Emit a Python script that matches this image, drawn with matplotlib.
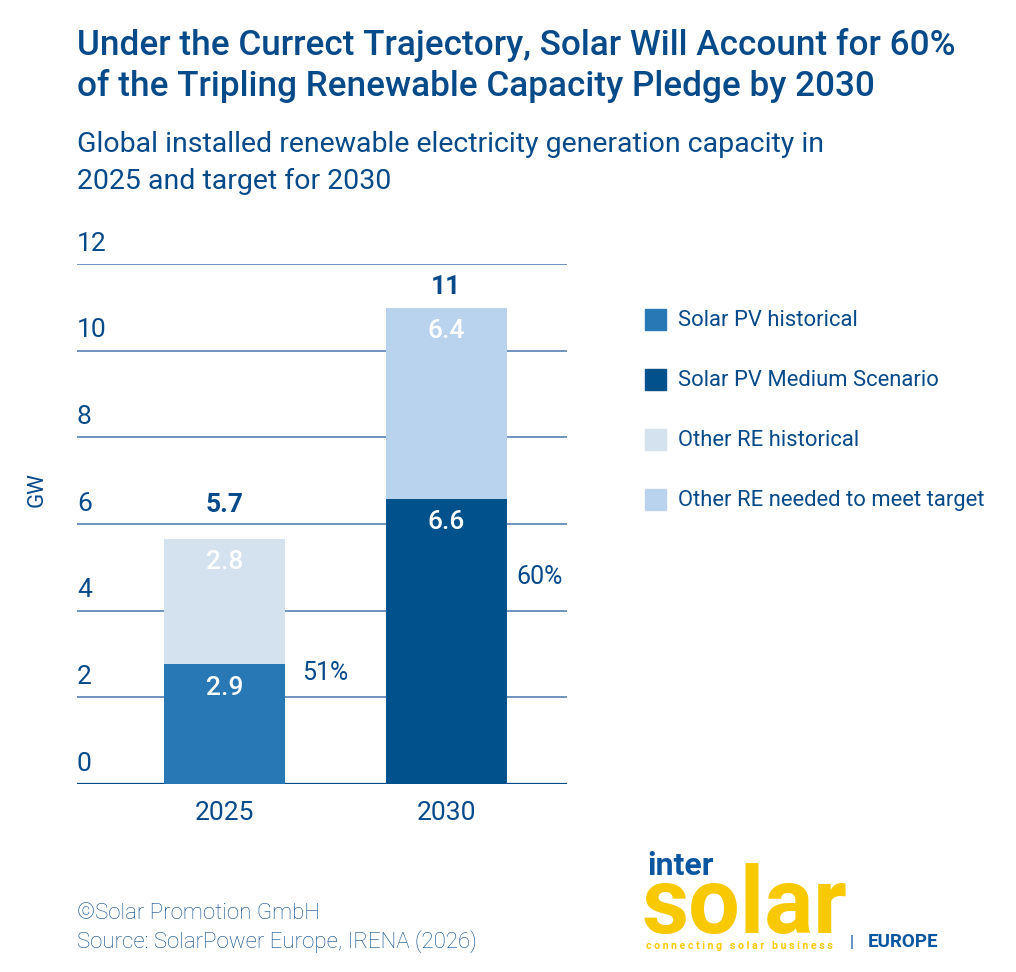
import matplotlib.pyplot as plt
from matplotlib.patches import Rectangle

# data
years = ['2025', '2030']
solar = [2.77, 6.58]          # bottom segment heights (GW)
other = [2.89, 4.41]          # top segment heights (GW)
solar_labels = ['2.9', '6.6']
other_labels = ['2.8', '6.4']
total_labels = ['5.7', '11']
share_labels = ['51%', '60%']
share_y = [2.56, 4.78]
yticks = [0, 2, 4, 6, 8, 10, 12]

legend_names = ['Solar PV historical', 'Solar PV Medium Scenario',
                'Other RE historical', 'Other RE needed to meet target']

NAVY = '#074a8a'
solar_colors = ['#2878b5', '#00518c']
other_colors = ['#d4e1ef', '#b9d3ef']
legend_colors = ['#2878b5', '#00518c', '#d4e1ef', '#b9d3ef']

plt.rcParams['font.family'] = ['Roboto', 'DejaVu Sans']

fig = plt.figure(figsize=(10.16, 9.72), dpi=100)
ax = fig.add_axes([77/1016, 1 - 784/972, 490/1016, 520/972])

x = list(range(len(years)))
w = 0.546
ax.bar(x, solar, width=w, color=solar_colors, zorder=3)
ax.bar(x, other, width=w, bottom=solar, color=other_colors, zorder=3)

ax.set_xlim(-0.666, 1.546)
ax.set_ylim(0, 12)
for v in yticks:
    ax.axhline(v, color=NAVY if v == 0 else '#6c94be', lw=1.6 if v == 0 else 1.4, zorder=1)
    ax.annotate(str(v), (0, v), xycoords=ax.get_yaxis_transform(),
                xytext=(0, 6), textcoords='offset points', ha='left', va='bottom',
                fontsize=19, color=NAVY)

for s in ax.spines.values():
    s.set_visible(False)
ax.set_yticks([])
ax.set_xticks(x)
ax.set_xticklabels(years, fontsize=19, color=NAVY)
ax.tick_params(axis='x', length=0, pad=12)

total_off = [24, 15]
for i in x:
    top = solar[i] + other[i]
    ax.annotate(solar_labels[i], (i, solar[i]), xytext=(0, -17), textcoords='offset points',
                ha='center', va='center', fontsize=19, fontweight='medium', color='white', zorder=4)
    ax.annotate(other_labels[i], (i, top), xytext=(0, -17), textcoords='offset points',
                ha='center', va='center', fontsize=19, fontweight='medium', color='white', zorder=4)
    ax.annotate(total_labels[i], (i, top), xytext=(0, total_off[i]), textcoords='offset points',
                ha='center', va='center', fontsize=19, fontweight='bold', color=NAVY)
    ax.annotate(share_labels[i], (i + w / 2, share_y[i]), xytext=(12 if i == 0 else 7, 0),
                textcoords='offset points', ha='left', va='center', fontsize=18, color=NAVY)

fig.text(37/1016, 1 - 490/972, 'GW', rotation=90, ha='center', va='center',
         fontsize=16, color=NAVY)

# legend
for k, (name, c) in enumerate(zip(legend_names, legend_colors)):
    yy = 1 - (320 + 60 * k) / 972
    fig.patches.append(Rectangle((645/1016, yy - 10/972), 21/1016, 21/972,
                                 transform=fig.transFigure, color=c))
    fig.text(678/1016, yy, name, ha='left', va='center', fontsize=15.8, color=NAVY)

# titles
fig.text(77/1016, 1 - 45/972, 'Under the Currect Trajectory, Solar Will Account for 60%',
         fontsize=25.3, fontweight='medium', color=NAVY, va='center')
fig.text(77/1016, 1 - 86/972, 'of the Tripling Renewable Capacity Pledge by 2030',
         fontsize=25.3, fontweight='medium', color=NAVY, va='center')
fig.text(77/1016, 1 - 145/972, 'Global installed renewable electricity generation capacity in',
         fontsize=20.5, fontweight='normal', color=NAVY, va='center')
fig.text(77/1016, 1 - 181/972, '2025 and target for 2030',
         fontsize=20.5, fontweight='normal', color=NAVY, va='center')

# footer
fig.text(77/1016, 1 - 913/972, '\u00a9Solar Promotion GmbH', fontsize=16,
         fontweight='light', color=NAVY, va='center')
fig.text(77/1016, 1 - 942/972, 'Source: SolarPower Europe, IRENA (2026)', fontsize=16,
         fontweight='light', color=NAVY, va='center')

# logo
YEL = '#f9c900'
fig.text(647/1016, 1 - 866/972, 'inter', fontsize=23, fontweight='bold', color='#0b56a0',
         va='center', ha='left')
fig.text(642/1016, 1 - 907/972, 'solar', fontsize=66, fontweight='bold', color=YEL,
         va='center', ha='left')
fig.text(646/1016, 1 - 946/972, 'c o n n e c t i n g   s o l a r   b u s i n e s s',
         fontsize=7.6, fontweight='bold', color=YEL, va='center', ha='left')
fig.text(852/1016, 1 - 942/972, '|', fontsize=12, color='#0b56a0', va='center', ha='center')
fig.text(868/1016, 1 - 942/972, 'EUROPE', fontsize=13.5, fontweight='bold', color='#0b56a0',
         va='center', ha='left')

fig.savefig('out.png', dpi=100)
